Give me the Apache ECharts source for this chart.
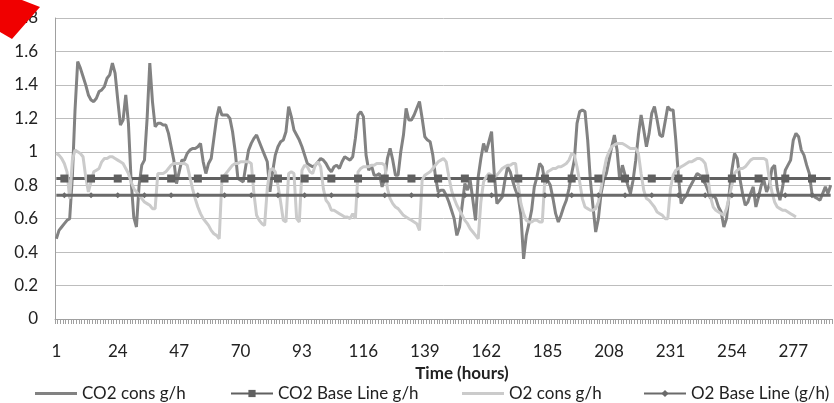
<!DOCTYPE html>
<html>
<head>
<meta charset="utf-8">
<script src="https://cdn.jsdelivr.net/npm/echarts@6/dist/echarts.min.js"></script>
<style>
  html, body { margin: 0; padding: 0; background: #fff; }
  #chart { width: 834px; height: 403px; }
</style>
</head>
<body>
<div id="chart"></div>
<script>
// hours 1..291
var hours = [];
for (var h = 1; h <= 291; h++) hours.push(String(h));

// CO2 consumption g/h
var co2Cons = [
  0.48,0.53,0.55,0.57,0.59,0.60,0.85,1.25,1.54,1.50,
  1.45,1.40,1.34,1.31,1.30,1.32,1.36,1.37,1.39,1.44,
  1.46,1.53,1.47,1.31,1.16,1.19,1.34,1.17,0.83,0.61,
  0.55,0.80,0.92,0.95,1.20,1.53,1.30,1.15,1.17,1.17,
  1.16,1.16,1.11,1.03,0.95,0.81,0.88,0.95,0.95,0.99,
  1.01,1.02,1.02,1.03,1.05,0.94,0.87,0.93,0.96,1.08,
  1.20,1.27,1.22,1.22,1.22,1.20,1.12,1.00,0.84,0.83,
  0.82,0.92,1.01,1.05,1.08,1.10,1.06,1.02,0.98,0.94,
  0.76,0.88,0.98,1.03,1.06,1.07,1.12,1.27,1.21,1.13,
  1.10,1.07,1.03,0.98,0.93,0.92,0.91,0.92,0.94,0.96,
  0.95,0.93,0.90,0.88,0.91,0.92,0.90,0.94,0.97,0.96,
  0.95,0.97,1.08,1.22,1.24,1.21,0.98,0.89,0.92,0.86,
  0.86,0.87,0.79,0.84,0.96,1.02,0.95,0.86,0.86,1.00,
  1.10,1.26,1.19,1.19,1.22,1.26,1.30,1.20,1.09,1.07,
  1.06,0.98,0.85,0.76,0.77,0.77,0.74,0.70,0.65,0.60,
  0.50,0.55,0.68,0.81,0.77,0.83,0.71,0.59,0.85,0.96,
  1.05,1.00,1.06,1.12,0.87,0.69,0.71,0.73,0.83,0.91,
  0.88,0.82,0.77,0.73,0.62,0.36,0.50,0.57,0.65,0.79,
  0.85,0.93,0.91,0.81,0.83,0.80,0.72,0.63,0.58,0.62,
  0.67,0.71,0.78,0.87,0.95,1.17,1.24,1.25,1.24,1.07,
  0.83,0.67,0.52,0.60,0.75,0.83,0.87,0.95,1.03,1.10,
  1.01,0.83,0.92,0.86,0.80,0.75,0.83,0.95,1.10,1.22,
  1.13,1.03,1.11,1.23,1.27,1.19,1.10,1.09,1.18,1.27,
  1.25,1.25,1.07,0.85,0.69,0.72,0.74,0.78,0.81,0.84,
  0.87,0.86,0.83,0.81,0.77,0.72,0.74,0.72,0.67,0.64,
  0.55,0.60,0.75,0.89,0.99,0.96,0.84,0.75,0.68,0.70,
  0.75,0.79,0.67,0.73,0.80,0.83,0.76,0.80,0.90,0.92,
  0.78,0.71,0.79,0.89,0.92,0.95,1.07,1.11,1.09,1.01,
  0.98,0.92,0.87,0.75,0.73,0.72,0.71,0.75,0.79,0.75,
  0.80
];

// O2 consumption g/h (stops at hour 278)
var o2Cons = [
  0.99,0.98,0.96,0.93,0.88,0.72,0.95,1.01,1.00,0.99,
  0.97,0.85,0.76,0.82,0.88,0.89,0.90,0.94,0.96,0.96,
  0.97,0.97,0.96,0.95,0.94,0.93,0.90,0.87,0.82,0.78,
  0.76,0.74,0.72,0.70,0.69,0.68,0.66,0.66,0.87,0.87,
  0.87,0.88,0.90,0.92,0.93,0.93,0.93,0.93,0.93,0.92,
  0.85,0.78,0.72,0.67,0.63,0.60,0.58,0.56,0.53,0.51,
  0.50,0.48,0.83,0.86,0.88,0.90,0.92,0.93,0.93,0.94,
  0.94,0.94,0.94,0.93,0.75,0.62,0.59,0.57,0.56,0.78,
  0.89,0.90,0.88,0.80,0.70,0.59,0.58,0.87,0.88,0.87,
  0.60,0.58,0.89,0.92,0.91,0.88,0.87,0.92,0.94,0.91,
  0.78,0.71,0.69,0.65,0.65,0.64,0.63,0.62,0.61,0.61,
  0.60,0.63,0.60,0.88,0.90,0.91,0.91,0.91,0.92,0.92,
  0.93,0.93,0.93,0.92,0.78,0.72,0.69,0.67,0.66,0.64,
  0.62,0.61,0.60,0.59,0.58,0.57,0.53,0.83,0.86,0.87,
  0.88,0.90,0.92,0.94,0.95,0.96,0.94,0.85,0.77,0.72,
  0.68,0.65,0.62,0.59,0.57,0.54,0.52,0.50,0.48,0.70,
  0.82,0.85,0.87,0.86,0.85,0.86,0.88,0.90,0.91,0.92,
  0.92,0.93,0.93,0.80,0.69,0.63,0.59,0.58,0.58,0.59,
  0.59,0.58,0.58,0.85,0.88,0.89,0.90,0.90,0.91,0.91,
  0.92,0.93,0.95,0.99,0.98,0.91,0.82,0.72,0.67,0.66,
  0.65,0.65,0.66,0.70,0.78,0.88,0.96,1.00,1.03,1.04,
  1.05,1.05,1.05,1.04,1.03,1.02,1.02,1.02,0.99,0.87,
  0.77,0.72,0.71,0.69,0.67,0.64,0.63,0.62,0.60,0.60,
  0.78,0.86,0.89,0.90,0.91,0.92,0.93,0.94,0.94,0.95,
  0.96,0.96,0.95,0.93,0.85,0.73,0.67,0.65,0.64,0.63,
  0.62,0.66,0.73,0.80,0.87,0.89,0.90,0.90,0.91,0.93,
  0.95,0.96,0.96,0.96,0.96,0.96,0.95,0.84,0.76,0.70,
  0.67,0.66,0.65,0.65,0.64,0.63,0.62,0.61
];

var co2BaseValue = 0.84;
var o2BaseValue = 0.74;
var co2Base = hours.map(function () { return co2BaseValue; });
var o2Base = hours.map(function () { return o2BaseValue; });

var yTicks = [0, 0.2, 0.4, 0.6, 0.8, 1, 1.2, 1.4, 1.6, 1.8];

var font = 'Lato, "Open Sans", sans-serif';
var legendText = { fontSize: 17, color: '#222', fontFamily: font };

// every 10th point gets a marker on the base lines
function markerSize(size) {
  return function (v, p) { return p.dataIndex % 10 === 3 ? size : 0; };
}

var myChart = echarts.init(document.getElementById('chart'));
var option = {
  backgroundColor: '#fff',
  animation: false,
  textStyle: { fontFamily: font },
  grid: { left: 55, right: 2, top: 18, bottom: 84 },
  legend: [
    // plain line icon for the measured series
    { left: 30, top: 380, itemWidth: 42, itemHeight: 3, icon: 'rect',
      textStyle: legendText, data: ['CO2 cons g/h'] },
    { left: 225, top: 380, itemWidth: 42, itemHeight: 9,
      textStyle: legendText, data: ['CO2 Base Line g/h'] },
    { left: 457, top: 380, itemWidth: 42, itemHeight: 3, icon: 'rect',
      textStyle: legendText, data: ['O2 cons g/h'] },
    { left: 638, top: 380, itemWidth: 42, itemHeight: 9,
      textStyle: legendText, data: ['O2 Base Line (g/h)'] }
  ],
  xAxis: {
    type: 'category',
    data: hours,
    boundaryGap: true,
    name: 'Time (hours)',
    nameLocation: 'middle',
    nameGap: 45,
    nameTextStyle: { fontSize: 17, fontWeight: 'bold', color: '#222', padding: [0, 0, 0, 37], fontFamily: font },
    axisLine: { lineStyle: { color: '#a0a0a0', width: 1 } },
    axisTick: { show: true, interval: 0, length: 5, lineStyle: { color: '#a0a0a0' } },
    axisLabel: { interval: 22, fontSize: 17, color: '#222', margin: 24, fontFamily: font },
    splitLine: { show: false }
  },
  yAxis: {
    type: 'value',
    min: yTicks[0],
    max: yTicks[yTicks.length - 1],
    interval: 0.2,
    axisLine: { show: true, lineStyle: { color: '#a0a0a0' } },
    axisTick: { show: false },
    axisLabel: { fontSize: 17, color: '#222', margin: 17, fontFamily: font },
    splitLine: { lineStyle: { color: '#bdbdbd', width: 1 } }
  },
  series: [
    {
      name: 'CO2 cons g/h', type: 'line', data: co2Cons,
      symbol: 'none', lineStyle: { color: '#828282', width: 3 }, itemStyle: { color: '#828282' }
    },
    {
      name: 'CO2 Base Line g/h', type: 'line', data: co2Base,
      symbol: 'rect', showAllSymbol: true, symbolSize: markerSize(8),
      lineStyle: { color: '#606060', width: 3 }, itemStyle: { color: '#606060' }
    },
    {
      name: 'O2 cons g/h', type: 'line', data: o2Cons,
      symbol: 'none', lineStyle: { color: '#cbcbcb', width: 3 }, itemStyle: { color: '#cbcbcb' }
    },
    {
      name: 'O2 Base Line (g/h)', type: 'line', data: o2Base,
      symbol: 'diamond', showAllSymbol: true, symbolSize: markerSize(6),
      lineStyle: { color: '#6a6a6a', width: 3 }, itemStyle: { color: '#6a6a6a' }
    }
  ],
  graphic: [
    {
      type: 'polygon',
      shape: { points: [[0, 0], [22, 0], [40, 7], [12, 39], [0, 32]] },
      style: { fill: '#f00000' },
      z: 100
    }
  ]
};
myChart.setOption(option);
</script>
</body>
</html>
